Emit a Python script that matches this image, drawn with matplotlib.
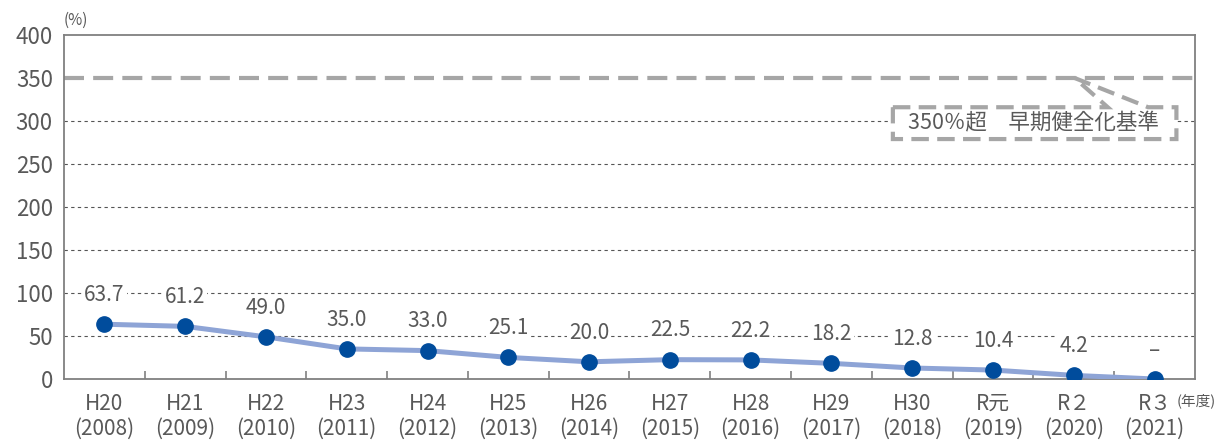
import matplotlib
matplotlib.use("Agg")
import matplotlib.pyplot as plt
from matplotlib.patches import Polygon
from matplotlib.ticker import FixedLocator

plt.rcParams['font.family'] = ['Noto Sans CJK JP', 'DejaVu Sans']

eras = ["H20", "H21", "H22", "H23", "H24", "H25", "H26", "H27", "H28", "H29",
        "H30", "R元", "R２", "R３"]
years = ["(2008)", "(2009)", "(2010)", "(2011)", "(2012)", "(2013)", "(2014)",
         "(2015)", "(2016)", "(2017)", "(2018)", "(2019)", "(2020)", "(2021)"]
values = [63.7, 61.2, 49.0, 35.0, 33.0, 25.1, 20.0, 22.5, 22.2, 18.2, 12.8, 10.4, 4.2, 0.0]
value_labels = ["63.7", "61.2", "49.0", "35.0", "33.0", "25.1", "20.0", "22.5", "22.2",
                "18.2", "12.8", "10.4", "4.2", "–"]
y_ticks = [0, 50, 100, 150, 200, 250, 300, 350, 400]
threshold = 350
threshold_label = "350％超　早期健全化基準"

text_color = "#595959"
fig = plt.figure(figsize=(12.17, 4.42), dpi=100)
ax = fig.add_axes([64/1217, 1-379/442, (1195-64)/1217, (379-35)/442])

x = list(range(len(values)))
ax.set_xlim(-0.5, len(values) - 0.5)
ax.set_ylim(0, 400)

# grid lines
for yv in y_ticks:
    if yv in (0, 400, threshold):
        continue
    ax.axhline(yv, color="#555555", lw=0.8, ls=(0, (3, 3)), zorder=1)

# threshold line
ax.axhline(threshold, color="#a6a6a6", lw=3, dashes=(4.8, 2.2), zorder=2)

# data line
ax.plot(x, values, color="#8ea4d6", lw=3.6, zorder=3, solid_capstyle="round")
ax.plot(x, values, ls="none", marker="o", ms=11, color="#004c9c", zorder=4)

for xi, v, lab in zip(x, values, value_labels):
    ax.annotate(lab, (xi, v), xytext=(0, 21), textcoords="offset points",
                ha="center", va="center", fontsize=15, color=text_color, zorder=5,
                bbox=dict(boxstyle="square,pad=0.1", fc="white", ec="none"))

# callout box
poly = Polygon([(9.76, 316), (12.42, 316), (12.01, 350), (12.92, 316), (13.27, 316),
                (13.27, 279), (9.76, 279)], closed=True, fill=True, fc="white",
               ec="#a6a6a6", lw=3, ls=(0, (4.2, 2.0)), zorder=5, joinstyle="miter")
ax.add_patch(poly)
ax.text(11.5, 297.5, threshold_label, ha="center", va="center",
        fontsize=15.5, color=text_color, zorder=6)

# axes styling
for s in ax.spines.values():
    s.set_color("#808080")
    s.set_linewidth(1.3)
ax.set_yticks(y_ticks)
ax.set_yticklabels([str(t) for t in y_ticks])
ax.tick_params(axis="y", length=0, pad=8, labelsize=16, labelcolor=text_color)
ax.set_xticks(x)
ax.set_xticklabels(eras)
ax.tick_params(axis="x", which="major", length=0, pad=10, labelsize=15, labelcolor=text_color)
ax.xaxis.set_minor_locator(FixedLocator([i + 0.5 for i in range(len(values) - 1)]))
ax.tick_params(axis="x", which="minor", direction="in", length=6, width=1.2, color="#808080")

for xi, yr in zip(x, years):
    ax.annotate(yr, (xi, 0), xycoords=("data", "axes fraction"),
                xytext=(0, -35.5), textcoords="offset points",
                ha="center", va="center", fontsize=15, color=text_color,
                annotation_clip=False)

fig.text(64/1217, 1-20/442, "(%)", ha="left", va="center", fontsize=11, color=text_color)
fig.text(1177/1217, 1-401/442, "(年度)", ha="left", va="center", fontsize=10.5, color=text_color)

fig.savefig("out.png", dpi=100)
